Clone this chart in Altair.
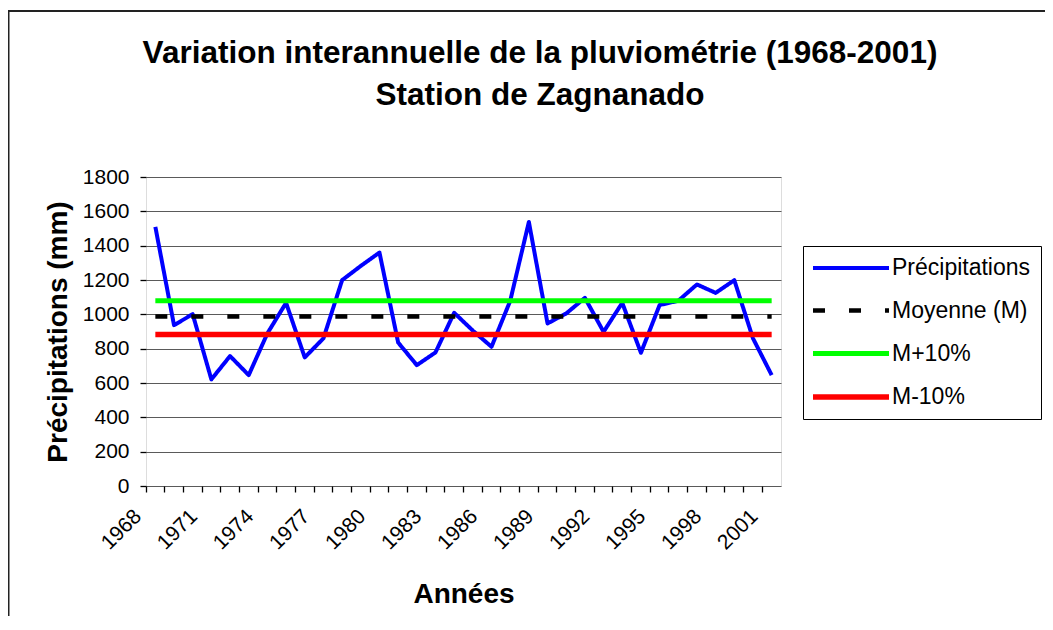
import altair as alt
import pandas as pd

# ---- data ----
years = list(range(1968, 2002))
precip = [1510, 937, 1001, 621, 757, 646, 889, 1067, 749, 860,
          1199, 1282, 1360, 836, 704, 778, 1009, 905, 811, 1078,
          1538, 947, 1005, 1096, 898, 1067, 776, 1054, 1079, 1174,
          1125, 1199, 860, 646]
ref_names = ["Moyenne (M)", "M+10%", "M-10%"]
ref_values = [988, 1079, 883]

series_names = ["Précipitations", "Moyenne (M)", "M+10%", "M-10%"]
series_colors = ["#0000ff", "#000000", "#00ff00", "#ff0000"]
series_dash = [[1, 0], [12, 24], [1, 0], [1, 0]]
series_width = [4, 5.5, 3.5, 3.5]

y_ticks = list(range(0, 1801, 200))
title_lines = ["Variation interannuelle de la pluviométrie (1968-2001)",
               "Station de Zagnanado"]

FONT = "Liberation Sans"

prec_df = pd.DataFrame({"year": years, "value": precip,
                        "series": ["Précipitations"] * len(years)})
ref_rows = []
for name, v in zip(ref_names, ref_values):
    for yr in (years[0], years[-1]):
        ref_rows.append({"year": yr, "value": v, "series": name})
ref_df = pd.DataFrame(ref_rows)

legend = alt.Legend(
    title=None, orient="none", legendX=657, legendY=69,
    fillColor="white", strokeColor="black", padding=10,
    symbolType="M-3.8,0H3.8", symbolSize=400, symbolOffset=25,
    labelOffset=28, labelFont=FONT, labelFontSize=23, labelColor="black",
    labelLimit=0, rowPadding=18,
)

x_enc = alt.X(
    "year:O",
    scale=alt.Scale(type="band", domain=years, paddingInner=0, paddingOuter=0),
    axis=alt.Axis(
        bandPosition=0,
        labelExpr="(datum.value - 1968) % 3 == 0 ? datum.label : ''",
        labelAngle=315, labelAlign="right", labelBaseline="middle",
        labelFont=FONT, labelFontSize=21, labelColor="black",
        labelPadding=21, labelOverlap=False, labelOffset=-17,
        ticks=True, tickSize=6, tickColor="black", tickWidth=1.3,
        domain=False, grid=False,
        title="Années", titleFont=FONT, titleFontSize=28,
        titleFontWeight="bold", titleColor="black",
        titleX=317.5, titleY=116, titleAlign="center",
        titleBaseline="alphabetic",
    ),
)
y_enc = alt.Y(
    "value:Q",
    scale=alt.Scale(domain=[0, 1800]),
    axis=alt.Axis(
        values=y_ticks, format="d", grid=True, gridColor="#5a5a5a", gridWidth=1.2,
        tickColor="black", tickSize=6, tickWidth=1.3, domain=False,
        labelFont=FONT, labelFontSize=21, labelColor="black", labelPadding=11,
        title="Précipitations (mm)", titleFont=FONT, titleFontSize=28,
        titleFontWeight="bold", titleColor="black",
        titleAngle=270, titleX=-80, titleY=154.5, titleAlign="center",
        titleBaseline="alphabetic",
    ),
)
color_enc = alt.Color("series:N",
                      scale=alt.Scale(domain=series_names, range=series_colors),
                      legend=legend)
dash_enc = alt.StrokeDash("series:N",
                          scale=alt.Scale(domain=series_names, range=series_dash),
                          legend=legend)
width_enc = alt.StrokeWidth("series:N",
                            scale=alt.Scale(domain=series_names, range=series_width),
                            legend=legend)

frame = alt.Chart(alt.Data(values=[{"f": 1}])).mark_rect(
    fill="transparent", stroke="#222222", strokeWidth=2, clip=False
).encode(x=alt.value(-137.5), y=alt.value(-166), x2=alt.value(1200), y2=alt.value(800))

title1 = alt.Chart(alt.Data(values=[{"t": title_lines[0]}])).mark_text(
    font=FONT, fontSize=31.5, fontWeight="bold", color="black",
    align="center", baseline="alphabetic", clip=False
).encode(text="t:N", x=alt.value(394), y=alt.value(-114))
title2 = alt.Chart(alt.Data(values=[{"t": title_lines[1]}])).mark_text(
    font=FONT, fontSize=31.5, fontWeight="bold", color="black",
    align="center", baseline="alphabetic", clip=False
).encode(text="t:N", x=alt.value(394), y=alt.value(-72))

prec_line = alt.Chart(prec_df).mark_line(strokeJoin="round", strokeCap="butt").encode(
    x=x_enc, y=y_enc, color=color_enc, strokeDash=dash_enc, strokeWidth=width_enc)

ref_line = alt.Chart(ref_df).mark_line(strokeCap="butt").encode(
    x=x_enc, y=y_enc, color=color_enc, strokeDash=dash_enc, strokeWidth=width_enc,
    detail="series:N")

chart = alt.layer(frame, title1, title2, prec_line, ref_line).properties(
    width=635, height=309,
    autosize=alt.AutoSizeParams(type="none"),
    padding={"left": 138, "top": 169, "right": 264, "bottom": 130},
).configure_view(fill="#e6e6e6", stroke="black", strokeWidth=2
).configure(background="white")

chart.save("out.html", embed_options={"renderer": "svg", "actions": False})
